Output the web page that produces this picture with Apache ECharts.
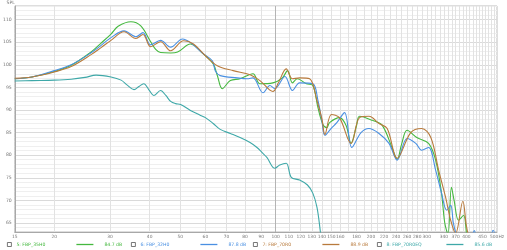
<!DOCTYPE html>
<html><head><meta charset="utf-8">
<script src="https://cdn.jsdelivr.net/npm/echarts@6/dist/echarts.min.js"></script>
<style>html,body{margin:0;padding:0;background:#fff}#c{width:507px;height:250px}</style>
</head><body><div id="c"></div>
<script>
// ---- data (frequency in Hz, level in dB SPL) ----
const seriesNames = ['5: FBP_35H0', '6: FBP_32H0', '7: FBP_70R0', '8: FBP_70R0EQ'];
const legendValues = ['84.7 dB', '87.8 dB', '88.9 dB', '85.6 dB'];
const seriesColors = ['#45b83f', '#4a90e2', '#b87a3c', '#3ea8a8'];

const fGreen = [15,17,20,22.6,26.2,28.1,30.2,31.8,34.9,37.5,40.3,41.8,43.3,46.6,49,53.8,59.1,63.5,65.5,67.8,71.9,77.2,84.8,89.2,98,105,109,113,117,125,131,136,141,145,148,159,167,173,180,184,202,217,233,242,250,260,279,304,320,334,342,350,359,366,378,392,403,420];
const dbGreen = [96.9,97.3,98.5,99.9,102.9,104.8,106.8,108.5,109.5,108.6,105.1,103.4,102.7,102.6,102.8,104.6,102.4,100.2,97.5,94.7,96.5,96.9,98.0,95.8,96.0,97.1,98.7,96.0,96.9,95.8,95.4,90.5,86.8,86.1,87.2,88.3,86.5,82.6,86.5,88.6,87.7,86.6,81.7,79.1,82.5,85.5,83.9,82.6,78.9,71.6,65.0,62.5,72.9,70.0,65.6,66.7,61.5,58];

const fBlue = [15,17,20,22.6,26.2,28.1,30.2,33.2,36.2,38.1,40.3,43.3,46.6,50.8,53.8,59.1,63.1,64.5,66.8,75.6,81.2,84.8,91.2,95.9,99.4,107,113,119,131,136,140,143,150,156,165,174,186,197,212,228,242,260,277,289,304,320,334,347,357,364,372,390,410,424,440,470,486,500];
const dbBlue = [96.9,97.3,98.7,100.0,102.7,104.3,106.0,107.5,106.2,107.1,104.4,105.4,103.9,105.7,104.9,102.4,100.9,98.6,97.6,97.1,96.9,97.1,93.8,95.4,94.7,97.4,94.3,96.0,95.8,92.1,87.5,84.4,86.0,87.2,89.4,81.7,85.0,85.9,84.8,82.6,78.9,83.7,82.6,81.1,81.7,76.7,71.6,67.8,68.9,65.0,62.4,59,60,63.3,59.5,60,63.4,60.5];

const fBrown = [15,17,20,22.6,26.2,28.1,30.2,33.2,36.2,38.1,40.3,43.3,46.6,51.2,55,60,65.4,73.4,83,89.2,98,102,108,113,119,128,135,140,143,150,159,173,184,197,212,225,242,267,289,309,327,344,357,370,390,400,415];
const dbBrown = [97.0,97.3,98.4,99.6,102.3,103.8,105.4,107.3,105.8,106.7,104.0,105.1,103.1,105.3,104.6,102.0,99.8,98.7,97.8,96.5,94.1,96.0,99.1,96.9,97.1,96.9,92.1,88.0,84.6,89.0,88.3,82.6,88.3,88.6,87.0,85.9,79.3,85.0,85.9,83.9,76.7,70.7,65.6,62.7,69.8,64.5,59];

const fTeal = [15,17,20,22.6,25,27.1,30.2,32.5,34,35.7,37,38.3,40,41.2,43.3,45,46.6,48.3,50.1,53.8,57.9,60,63.5,66.8,71.9,77.2,83,87.3,90.5,93.8,99.4,103,108,112,119,126,131,135,138,142];
const dbTeal = [96.4,96.5,96.6,96.8,97.2,97.7,97.3,96.6,95.5,94.5,95.2,95.8,94.2,93.2,94.3,93.2,91.9,91.4,91.2,89.9,88.8,88.3,87.0,85.7,84.8,83.9,82.8,81.7,80.6,79.5,77.1,77.8,78.2,75.1,74.5,73.4,71.6,68.5,63.8,56];

const xLabelHz = [15,20,30,40,50,60,70,80,90,100,110,120,130,140,150,160,180,200,220,240,260,280,300,340,370,400,450,500];
const xGridHz = [20,30,40,50,60,70,80,90,100,110,120,130,140,150,160,170,180,190,200,210,220,230,240,250,260,270,280,290,300,310,320,330,340,350,360,370,380,390,400,410,420,430,440,450,460,470,480,490];
const xMajorHz = [100];
const yLabels = [65,70,75,80,85,90,95,100,105,110];
const fMin = 15, fMax = 500, dbMin = 63, dbMax = 113;

// ---- chart ----
const lx = v => Math.log10(v);
const freqSets = [fGreen, fBlue, fBrown, fTeal];
const dbSets = [dbGreen, dbBlue, dbBrown, dbTeal];
const drawOrder = [3, 0, 1, 2];

const chart = echarts.init(document.getElementById('c'), null, {renderer: 'canvas'});
const hiddenX = (vals, color, pos) => ({
  type: 'value', min: lx(fMin), max: lx(fMax), position: pos,
  axisLine: {show: false}, axisLabel: {show: false},
  axisTick: {show: false, customValues: vals.map(lx)},
  splitLine: {show: true, lineStyle: {color: color, width: 1}}
});

const option = {
  animation: false,
  backgroundColor: '#ffffff',
  grid: {left: 13, right: 7, top: 5, bottom: 18, show: true, borderColor: '#bdbdbd', borderWidth: 1, containLabel: false},
  xAxis: [
    hiddenX(xGridHz, '#e2e2e2', 'top'),
    hiddenX(xMajorHz, '#b4b4b4', 'top'),
    {
      type: 'value', min: lx(fMin), max: lx(fMax), position: 'bottom',
      axisLine: {show: true, lineStyle: {color: '#a8a8a8', width: 1}},
      axisTick: {show: false, customValues: xLabelHz.map(lx)},
      splitLine: {show: false},
      axisLabel: {
        customValues: xLabelHz.map(lx), fontSize: 4.4, color: '#777', margin: 2.5,
        fontFamily: 'DejaVu Sans', showMinLabel: true, showMaxLabel: true, hideOverlap: false,
        formatter: v => { const f = Math.round(Math.pow(10, v)); return f === 500 ? '500Hz' : String(f); }
      }
    }
  ],
  yAxis: [
    {
      type: 'value', min: dbMin, max: dbMax, interval: 1, position: 'right',
      axisLine: {show: false}, axisTick: {show: false}, axisLabel: {show: false},
      splitLine: {show: true, lineStyle: {color: '#efefef', width: 1}}
    },
    {
      type: 'value', min: dbMin, max: dbMax, position: 'left',
      name: 'SPL', nameLocation: 'end', nameGap: 1,
      nameTextStyle: {fontSize: 4.6, color: '#777', align: 'right', fontFamily: 'DejaVu Sans'},
      axisLine: {show: true, lineStyle: {color: '#a8a8a8', width: 1}},
      axisTick: {show: false, customValues: yLabels},
      axisLabel: {customValues: yLabels, fontSize: 4.6, color: '#777', margin: 3, fontFamily: 'DejaVu Sans'},
      splitLine: {show: true, lineStyle: {color: '#dadada', width: 1}}
    }
  ],
  legend: seriesNames.map((n, i) => ({
    data: [n], left: [7, 131, 253, 377][i], top: 242, padding: 0,
    icon: 'rect', itemWidth: 4, itemHeight: 4, selectedMode: false,
    itemStyle: {color: '#ffffff', borderColor: '#555', borderWidth: 0.8},
    formatter: name => '{n|' + name + '}{l|}{g|}{v|' + legendValues[i] + '}',
    textStyle: {
      fontSize: 4.6, fontFamily: 'DejaVu Sans', color: seriesColors[i],
      rich: {
        n: {width: 60, fontSize: 4.6, color: seriesColors[i], fontFamily: 'DejaVu Sans'},
        l: {width: 17, height: 1.3, backgroundColor: seriesColors[i]},
        g: {width: 11},
        v: {fontSize: 4.6, color: seriesColors[i], fontFamily: 'DejaVu Sans'}
      }
    }
  })),
  series: drawOrder.map(i => ({
    name: seriesNames[i], type: 'line', xAxisIndex: 2, yAxisIndex: 1,
    showSymbol: false, symbol: 'none', smooth: 0.35, clip: true,
    lineStyle: {color: seriesColors[i], width: 1.1},
    itemStyle: {color: seriesColors[i]},
    data: freqSets[i].map((f, k) => [lx(f), dbSets[i][k]])
  }))
};
chart.setOption(option);
</script>
</body></html>
